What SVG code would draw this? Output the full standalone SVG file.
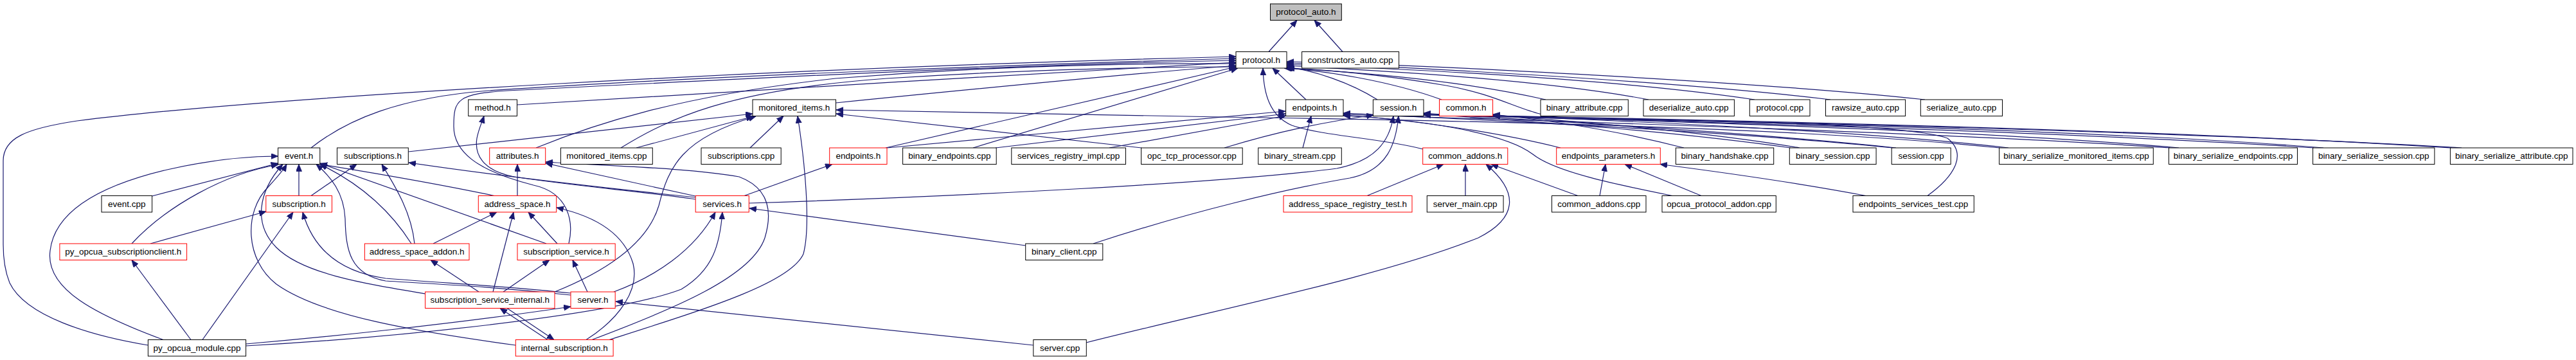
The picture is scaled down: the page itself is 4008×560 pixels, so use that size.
<svg xmlns="http://www.w3.org/2000/svg" width="4008" height="560" viewBox="0 0 4008 560">
<style>
.bx{fill:#ffffff;stroke:#000000;stroke-width:1}
.rd{fill:#ffffff;stroke:#ff0000;stroke-width:1}
.gy{fill:#bfbfbf;stroke:#000000;stroke-width:1}
.t{font-family:"Liberation Sans",Arial,Helvetica,sans-serif;font-size:13.5px;text-anchor:middle;fill:#000000}
.e path{fill:none;stroke:#191970;stroke-width:1.2;marker-end:url(#ah)}
</style>
<defs>
<marker id="ah" markerWidth="12" markerHeight="10" refX="11" refY="4.5" orient="auto" markerUnits="userSpaceOnUse"><path d="M0,0 L11,4.5 L0,9 z" fill="#191970" stroke="#191970" stroke-width="0.8"/></marker>
</defs>
<rect width="4008" height="560" fill="#ffffff"/>
<g id="connectors" class="e">
<path d="M1974,80.5 L2018,31.5"/>
<path d="M2089,80.5 L2045,31.5"/>
<path d="M2143,155 C2100,128 2045,110 2002,104"/>
<path d="M2243,155 C2160,125 2060,110 2000,106"/>
<path d="M2405,155 C2260,122 2080,110 1998,106"/>
<path d="M2565,155 C2380,120 2100,108 2002,102"/>
<path d="M2730,155 C2480,118 2120,105 2002,100"/>
<path d="M2848,155 C2600,125 2150,102 2002,98"/>
<path d="M2995,155 C2750,128 2200,100 2002,96"/>
<path d="M2032,155 L1980,106"/>
<path d="M230.4,537 C140,522 40,492 15,440 C7,420 5,400 5,380 L5,250 C5,215 40,200 120,188 C420,150 1200,106 1923,88"/>
<path d="M484,230 C540,186 620,152 760,141 C1100,118 1600,100 1923,91"/>
<path d="M885,379 C893,345 885,300 830,288 C740,265 705,235 706,195 C706,155 712,146 790,141 C1200,120 1600,100 1923,94"/>
<path d="M804.5,163 C1100,145 1600,115 1923,97"/>
<path d="M1300.5,160 C1500,140 1750,115 1923,102"/>
<path d="M834,230 C920,195 1050,150 1300,122 C1550,102 1750,98 1923,99"/>
<path d="M966,230 C1040,185 1130,140 1380,122 C1600,108 1800,104 1923,104"/>
<path d="M1378,230 L1923,104"/>
<path d="M1514,230 L1926,106"/>
<path d="M635.3,236 L1171,177"/>
<path d="M990,230 L1172,181"/>
<path d="M1167,230 L1219,180.5"/>
<path d="M863,454 C960,415 1010,370 1025,320 C1040,260 1060,215 1176,181"/>
<path d="M948,528.5 C1100,480 1230,440 1250,395 C1262,350 1252,250 1241,180.5"/>
<path d="M1776,230 L1301,177"/>
<path d="M3111,230 C2800,198 2300,188 1900,182 C1600,177 1400,173 1301,171"/>
<path d="M1380,230 L2000,173"/>
<path d="M1549,230 L2000,177"/>
<path d="M1726,230 L2001,180"/>
<path d="M2027,230 L2040,180.5"/>
<path d="M3376,230 C3000,205 2400,188 2090,178"/>
<path d="M2945,230 C2700,205 2300,186 2090,176"/>
<path d="M2428,230 C2300,198 2150,183 2090,179"/>
<path d="M2602,304.5 C2520,288 2420,268 2385,240 C2340,205 2200,185 2090,180"/>
<path d="M1905,230 C1990,204 2060,190 2137,179"/>
<path d="M1165.3,316 C1500,305 1900,285 2080,262 C2140,250 2162,220 2168,180.5"/>
<path d="M1701,379 C1850,330 2000,294 2100,277 C2160,265 2172,222 2176,180.5"/>
<path d="M2786,230 C2600,204 2400,190 2215,177"/>
<path d="M3600,230 C3200,204 2600,188 2215,179"/>
<path d="M2620,230 C2520,204 2420,188 2322.6,178"/>
<path d="M2800,230 C2650,204 2450,189 2322.6,179"/>
<path d="M3125,230 C2900,204 2550,189 2322.6,180"/>
<path d="M3390,230 C3100,204 2600,189 2322.6,180"/>
<path d="M3615,230 C3300,204 2700,189 2322.6,180"/>
<path d="M3815,230 C3400,204 2800,189 2322.6,180"/>
<path d="M2950,230 C2700,204 2400,188 2215,176"/>
<path d="M3830,230 C3400,205 2700,188 2215,178"/>
<path d="M2999,304.5 C3040,275 3062,240 3030,215 C2960,190 2600,188 2440,184 C2370,180 2345,150 2250,133 C2150,116 2060,108 2003,106"/>
<path d="M2489,304.5 L2498,255.5"/>
<path d="M2647,304.5 L2528,255.5"/>
<path d="M2903,304.5 C2800,285 2680,268 2583,255.5"/>
<path d="M2127,304.5 L2246,255.5"/>
<path d="M2280,304.5 L2280,255.5"/>
<path d="M2455,304.5 L2320,255.5"/>
<path d="M1690,533 C1900,480 2150,430 2300,370 C2360,340 2365,300 2312,255.5"/>
<path d="M2214,232 C2150,215 2060,212 2010,195 C1975,180 1966,145 1965,106"/>
<path d="M1608,537 L958,469"/>
<path d="M382.6,535 C500,525 700,505 888,477"/>
<path d="M955,454 C1020,430 1080,390 1113,330"/>
<path d="M382.6,538 C600,526 950,492 1060,450 C1110,420 1120,380 1124,330"/>
<path d="M1596,382 L1166,324"/>
<path d="M1158,304.5 L1295,255.5"/>
<path d="M1082,305 L849,254"/>
<path d="M1082,310 C1000,298 900,290 800,275 C750,265 738,240 742,215 C745,200 750,190 753,180.5"/>
<path d="M1082,307 C900,288 750,270 636,253"/>
<path d="M236.6,305 L432.6,254"/>
<path d="M205,379 C260,320 350,270 433,256"/>
<path d="M254,528.5 C150,490 70,450 78,390 C85,330 150,290 260,264 C330,248 390,243 432.6,243"/>
<path d="M297,528.5 L205,404.5"/>
<path d="M315,528.5 L456,330"/>
<path d="M234,379 L414,329"/>
<path d="M465,304.5 L465,255.5"/>
<path d="M484,304.5 L555,255.5"/>
<path d="M888,456 C800,446 700,441 600,433 C520,422 485,380 471,330"/>
<path d="M888,459 C780,447 700,443 600,437 C545,427 538,390 537,340 C535,300 515,275 492,255.5"/>
<path d="M640,379 Q590,300 498,255.5"/>
<path d="M645,379 C640,330 615,290 594,255.5"/>
<path d="M674,379 L773,330"/>
<path d="M745,454 L670,404.5"/>
<path d="M767,454 L799,330"/>
<path d="M783,454 L855,404.5"/>
<path d="M867,379 L822,330"/>
<path d="M914,454 L891,404.5"/>
<path d="M850,379 L498,254"/>
<path d="M661.6,457 C560,440 470,425 430,385 C395,350 400,300 440,255.5"/>
<path d="M802.3,537 C650,516 500,492 430,442 C382,405 378,330 418,290 C430,277 440,266 446,255.5"/>
<path d="M789,479.5 L862,528.5"/>
<path d="M852,528.5 L778,479.5"/>
<path d="M912,528.5 C965,495 995,450 985,410 C970,360 920,335 866,323"/>
<path d="M921,528.5 C1050,480 1170,430 1190,370 C1205,320 1190,290 1150,275 C1080,262 950,258 849,252"/>
<path d="M805,304.5 L805,255.5"/>
<path d="M769,304.5 C700,290 600,272 498,255.5"/>
</g>
<g id="protocol_auto_h"><rect class="gy" x="1976.5" y="6" width="110.8" height="25.5"/><text class="t" x="2031.9" y="23.3">protocol_auto.h</text></g>
<g id="protocol_h"><rect class="bx" x="1923" y="80.5" width="79" height="25.5"/><text class="t" x="1962.5" y="97.8">protocol.h</text></g>
<g id="constructors_auto_cpp"><rect class="bx" x="2025.6" y="80.5" width="151" height="25.5"/><text class="t" x="2101.1" y="97.8">constructors_auto.cpp</text></g>
<g id="method_h"><rect class="bx" x="728.7" y="155" width="75.8" height="25.5"/><text class="t" x="766.6" y="172.3">method.h</text></g>
<g id="monitored_items_h"><rect class="bx" x="1171" y="155" width="129.5" height="25.5"/><text class="t" x="1235.75" y="172.3">monitored_items.h</text></g>
<g id="endpoints_h"><rect class="bx" x="2000.6" y="155" width="89.4" height="25.5"/><text class="t" x="2045.3" y="172.3">endpoints.h</text></g>
<g id="session_h"><rect class="bx" x="2136.4" y="155" width="78.6" height="25.5"/><text class="t" x="2175.7" y="172.3">session.h</text></g>
<g id="common_h"><rect class="rd" x="2239.5" y="155" width="83.1" height="25.5"/><text class="t" x="2281.05" y="172.3">common.h</text></g>
<g id="binary_attribute_cpp"><rect class="bx" x="2397" y="155" width="136.3" height="25.5"/><text class="t" x="2465.15" y="172.3">binary_attribute.cpp</text></g>
<g id="deserialize_auto_cpp"><rect class="bx" x="2557" y="155" width="141.4" height="25.5"/><text class="t" x="2627.7" y="172.3">deserialize_auto.cpp</text></g>
<g id="protocol_cpp"><rect class="bx" x="2722.3" y="155" width="93.7" height="25.5"/><text class="t" x="2769.15" y="172.3">protocol.cpp</text></g>
<g id="rawsize_auto_cpp"><rect class="bx" x="2840.5" y="155" width="124.1" height="25.5"/><text class="t" x="2902.55" y="172.3">rawsize_auto.cpp</text></g>
<g id="serialize_auto_cpp"><rect class="bx" x="2988.3" y="155" width="127.2" height="25.5"/><text class="t" x="3051.9" y="172.3">serialize_auto.cpp</text></g>
<g id="event_h"><rect class="bx" x="432.6" y="230" width="65.2" height="25.5"/><text class="t" x="465.2" y="247.3">event.h</text></g>
<g id="subscriptions_h"><rect class="bx" x="524.5" y="230" width="110.8" height="25.5"/><text class="t" x="579.9" y="247.3">subscriptions.h</text></g>
<g id="attributes_h"><rect class="rd" x="761.7" y="230" width="87" height="25.5"/><text class="t" x="805.2" y="247.3">attributes.h</text></g>
<g id="monitored_items_cpp"><rect class="bx" x="872.4" y="230" width="142.9" height="25.5"/><text class="t" x="943.85" y="247.3">monitored_items.cpp</text></g>
<g id="subscriptions_cpp"><rect class="bx" x="1091" y="230" width="124.2" height="25.5"/><text class="t" x="1153.1" y="247.3">subscriptions.cpp</text></g>
<g id="endpoints_h_2"><rect class="rd" x="1290.7" y="230" width="89.3" height="25.5"/><text class="t" x="1335.35" y="247.3">endpoints.h</text></g>
<g id="binary_endpoints_cpp"><rect class="bx" x="1404.6" y="230" width="145.6" height="25.5"/><text class="t" x="1477.4" y="247.3">binary_endpoints.cpp</text></g>
<g id="services_registry_impl_cpp"><rect class="bx" x="1573.8" y="230" width="177.7" height="25.5"/><text class="t" x="1662.65" y="247.3">services_registry_impl.cpp</text></g>
<g id="opc_tcp_processor_cpp"><rect class="bx" x="1775.6" y="230" width="157.6" height="25.5"/><text class="t" x="1854.4" y="247.3">opc_tcp_processor.cpp</text></g>
<g id="binary_stream_cpp"><rect class="bx" x="1957.7" y="230" width="129.6" height="25.5"/><text class="t" x="2022.5" y="247.3">binary_stream.cpp</text></g>
<g id="common_addons_h"><rect class="rd" x="2213.7" y="230" width="132.1" height="25.5"/><text class="t" x="2279.75" y="247.3">common_addons.h</text></g>
<g id="endpoints_parameters_h"><rect class="rd" x="2421.7" y="230" width="161.6" height="25.5"/><text class="t" x="2502.5" y="247.3">endpoints_parameters.h</text></g>
<g id="binary_handshake_cpp"><rect class="bx" x="2607.4" y="230" width="152.3" height="25.5"/><text class="t" x="2683.55" y="247.3">binary_handshake.cpp</text></g>
<g id="binary_session_cpp"><rect class="bx" x="2784.3" y="230" width="134.8" height="25.5"/><text class="t" x="2851.7" y="247.3">binary_session.cpp</text></g>
<g id="session_cpp"><rect class="bx" x="2943.2" y="230" width="92" height="25.5"/><text class="t" x="2989.2" y="247.3">session.cpp</text></g>
<g id="binary_serialize_monitored_items_cpp"><rect class="bx" x="3110.6" y="230" width="239.7" height="25.5"/><text class="t" x="3230.45" y="247.3">binary_serialize_monitored_items.cpp</text></g>
<g id="binary_serialize_endpoints_cpp"><rect class="bx" x="3374.5" y="230" width="200" height="25.5"/><text class="t" x="3474.5" y="247.3">binary_serialize_endpoints.cpp</text></g>
<g id="binary_serialize_session_cpp"><rect class="bx" x="3598.6" y="230" width="189.3" height="25.5"/><text class="t" x="3693.25" y="247.3">binary_serialize_session.cpp</text></g>
<g id="binary_serialize_attribute_cpp"><rect class="bx" x="3812.4" y="230" width="190.6" height="25.5"/><text class="t" x="3907.7" y="247.3">binary_serialize_attribute.cpp</text></g>
<g id="event_cpp"><rect class="bx" x="158" y="304.5" width="78.6" height="25.5"/><text class="t" x="197.3" y="321.8">event.cpp</text></g>
<g id="subscription_h"><rect class="rd" x="413.8" y="304.5" width="102.7" height="25.5"/><text class="t" x="465.15" y="321.8">subscription.h</text></g>
<g id="address_space_h"><rect class="rd" x="744.3" y="304.5" width="121.4" height="25.5"/><text class="t" x="805" y="321.8">address_space.h</text></g>
<g id="services_h"><rect class="rd" x="1082.2" y="304.5" width="83.1" height="25.5"/><text class="t" x="1123.75" y="321.8">services.h</text></g>
<g id="address_space_registry_test_h"><rect class="rd" x="1997" y="304.5" width="200" height="25.5"/><text class="t" x="2097" y="321.8">address_space_registry_test.h</text></g>
<g id="server_main_cpp"><rect class="bx" x="2220.3" y="304.5" width="118.8" height="25.5"/><text class="t" x="2279.7" y="321.8">server_main.cpp</text></g>
<g id="common_addons_cpp"><rect class="bx" x="2414.5" y="304.5" width="146.5" height="25.5"/><text class="t" x="2487.75" y="321.8">common_addons.cpp</text></g>
<g id="opcua_protocol_addon_cpp"><rect class="bx" x="2586" y="304.5" width="177.3" height="25.5"/><text class="t" x="2674.65" y="321.8">opcua_protocol_addon.cpp</text></g>
<g id="endpoints_services_test_cpp"><rect class="bx" x="2883" y="304.5" width="188.3" height="25.5"/><text class="t" x="2977.15" y="321.8">endpoints_services_test.cpp</text></g>
<g id="py_opcua_subscriptionclient_h"><rect class="rd" x="92.9" y="379" width="197.7" height="25.5"/><text class="t" x="191.75" y="396.3">py_opcua_subscriptionclient.h</text></g>
<g id="address_space_addon_h"><rect class="rd" x="567.4" y="379" width="162.6" height="25.5"/><text class="t" x="648.7" y="396.3">address_space_addon.h</text></g>
<g id="subscription_service_h"><rect class="rd" x="805" y="379" width="152.2" height="25.5"/><text class="t" x="881.1" y="396.3">subscription_service.h</text></g>
<g id="binary_client_cpp"><rect class="bx" x="1595.7" y="379" width="120.1" height="25.5"/><text class="t" x="1655.75" y="396.3">binary_client.cpp</text></g>
<g id="subscription_service_internal_h"><rect class="rd" x="661.6" y="454" width="201.4" height="25.5"/><text class="t" x="762.3" y="471.3">subscription_service_internal.h</text></g>
<g id="server_h"><rect class="rd" x="888" y="454" width="69.2" height="25.5"/><text class="t" x="922.6" y="471.3">server.h</text></g>
<g id="py_opcua_module_cpp"><rect class="bx" x="230.4" y="528.5" width="152.2" height="25.5"/><text class="t" x="306.5" y="545.8">py_opcua_module.cpp</text></g>
<g id="internal_subscription_h"><rect class="rd" x="802.3" y="528.5" width="151.8" height="25.5"/><text class="t" x="878.2" y="545.8">internal_subscription.h</text></g>
<g id="server_cpp"><rect class="bx" x="1607.8" y="528.5" width="82.5" height="25.5"/><text class="t" x="1649.05" y="545.8">server.cpp</text></g>
</svg>
